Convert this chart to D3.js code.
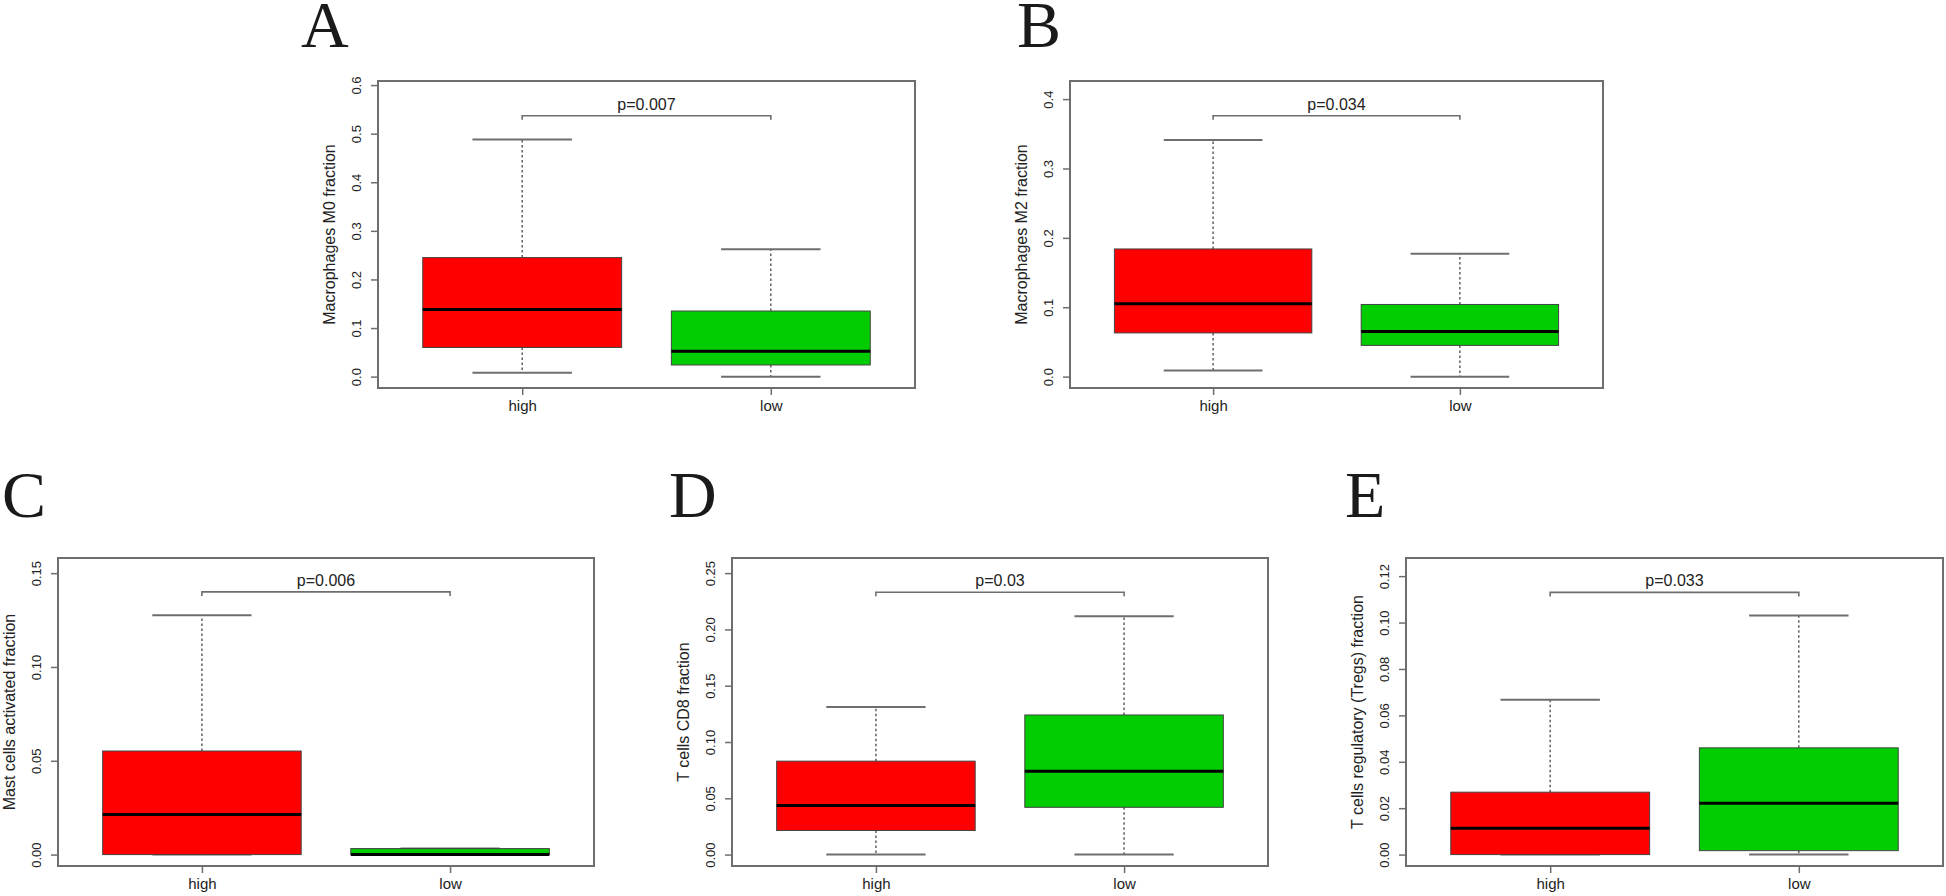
<!DOCTYPE html>
<html lang="en">
<head>
    <meta charset="UTF-8">
    <title>Immune cell fractions, high vs low</title>
    <script src="https://d3js.org/d3.v7.min.js"></script>
    <style>
        body { margin: 0; background: #fff; }
        text { font-family: "Liberation Sans", Arial, sans-serif; fill: #222; }
        .letter { font-family: "Liberation Serif", "Times New Roman", serif; font-size: 66px; fill: #1a1a1a; }
        .frame { fill: none; stroke: #6e6e6e; stroke-width: 2; }
        .axis path { display: none; }
        .axis line { stroke: #6e6e6e; stroke-width: 1.5; }
        .axis text { font-size: 13px; fill: #222; }
        .xaxis text { font-size: 15px; }
        .ylab { font-size: 16px; }
        .ptext { font-size: 16px; }
        .whisker { stroke: #555; stroke-width: 1.4; stroke-dasharray: 2.5,2.5; }
        .cap { stroke: #6e6e6e; stroke-width: 2; }
        .box { stroke: #444; stroke-width: 1; }
        .median { stroke: #000; stroke-width: 3; }
        .bracket { fill: none; stroke: #6e6e6e; stroke-width: 1.6; }
    </style>
</head>
<body>
<script>
    // Data
    const panels = ["A", "B", "C", "D", "E"];
    const groups = ["high", "low"];
    const yLabels = [
        "Macrophages M0 fraction",
        "Macrophages M2 fraction",
        "Mast cells activated fraction",
        "T cells CD8 fraction",
        "T cells regulatory (Tregs) fraction"
    ];
    const pValues = ["p=0.007", "p=0.034", "p=0.006", "p=0.03", "p=0.033"];

    // [min, q1, median, q3, max]
    const highStats = [
        [0.008, 0.060, 0.138, 0.245, 0.488],
        [0.009, 0.063, 0.105, 0.184, 0.341],
        [0.000, 0.000, 0.0214, 0.0552, 0.1275],
        [0.000, 0.0214, 0.0437, 0.083, 0.131],
        [0.000, 0.000, 0.0113, 0.0269, 0.0667]
    ];
    const lowStats = [
        [0.000, 0.024, 0.052, 0.135, 0.262],
        [0.000, 0.045, 0.065, 0.104, 0.177],
        [0.000, 0.000, 0.000, 0.0032, 0.0032],
        [0.000, 0.042, 0.074, 0.124, 0.2116],
        [0.000, 0.0017, 0.0221, 0.046, 0.103]
    ];
    const bracketValues = [0.537, 0.376, 0.140, 0.233, 0.113];
    const yUpper = [0.585, 0.4097, 0.152, 0.2533, 0.1229];
    const yTicks = [
        [0, 0.1, 0.2, 0.3, 0.4, 0.5, 0.6],
        [0, 0.1, 0.2, 0.3, 0.4],
        [0, 0.05, 0.10, 0.15],
        [0, 0.05, 0.10, 0.15, 0.20, 0.25],
        [0, 0.02, 0.04, 0.06, 0.08, 0.10, 0.12]
    ];
    const tickFormats = [".1f", ".1f", ".2f", ".2f", ".2f"];

    // Layout of each plot frame
    const frames = [
        {x0: 378, x1: 915, y0: 81, y1: 388, lx: 301, ly: 47},
        {x0: 1070, x1: 1603, y0: 81, y1: 388, lx: 1017, ly: 47},
        {x0: 58, x1: 594, y0: 558, y1: 866, lx: 2, ly: 517},
        {x0: 732, x1: 1268, y0: 558, y1: 866, lx: 669, ly: 517},
        {x0: 1406, x1: 1943, y0: 558, y1: 866, lx: 1345, ly: 517}
    ];
    const colors = {high: "#ff0000", low: "#00cc00"};

    const svg = d3.select("body")
        .append("svg")
        .attr("width", 1946)
        .attr("height", 896);

    panels.forEach((name, i) => {
        const f = frames[i];
        const g = svg.append("g");

        // R-like ylim with 4% extension
        const y = d3.scaleLinear()
            .domain([-0.04 * yUpper[i], 1.04 * yUpper[i]])
            .range([f.y1, f.y0]);

        const x = d3.scalePoint()
            .domain(groups)
            .range([f.x0, f.x1])
            .padding(0.58);
        const step = x.step();
        const half = 0.4 * step;
        const capHalf = 0.2 * step;

        // panel letter
        g.append("text")
            .attr("class", "letter")
            .attr("x", f.lx)
            .attr("y", f.ly)
            .text(name);

        // Y axis
        const yAxis = g.append("g")
            .attr("class", "axis")
            .attr("transform", `translate(${f.x0},0)`)
            .call(d3.axisLeft(y).tickValues(yTicks[i]).tickSize(7).tickFormat(d3.format(tickFormats[i])));
        yAxis.selectAll("text")
            .attr("x", null).attr("dy", null)
            .attr("text-anchor", "middle")
            .attr("dominant-baseline", "central")
            .attr("transform", "translate(-22,0) rotate(-90)");

        // X axis
        g.append("g")
            .attr("class", "axis xaxis")
            .attr("transform", `translate(0,${f.y1})`)
            .call(d3.axisBottom(x).tickSize(7).tickPadding(5));

        // y label
        g.append("text")
            .attr("class", "ylab")
            .attr("text-anchor", "middle")
            .attr("dominant-baseline", "central")
            .attr("transform", `translate(${f.x0 - 49},${(f.y0 + f.y1) / 2}) rotate(-90)`)
            .text(yLabels[i]);

        // boxes
        const stats = [highStats[i], lowStats[i]];
        groups.forEach((grp, j) => {
            const [mn, q1, md, q3, mx] = stats[j];
            const cx = x(grp);
            g.append("line").attr("class", "whisker")
                .attr("x1", cx).attr("x2", cx)
                .attr("y1", y(q3)).attr("y2", y(mx));
            g.append("line").attr("class", "whisker")
                .attr("x1", cx).attr("x2", cx)
                .attr("y1", y(q1)).attr("y2", y(mn));
            g.append("line").attr("class", "cap")
                .attr("x1", cx - capHalf).attr("x2", cx + capHalf)
                .attr("y1", y(mx)).attr("y2", y(mx));
            g.append("line").attr("class", "cap")
                .attr("x1", cx - capHalf).attr("x2", cx + capHalf)
                .attr("y1", y(mn)).attr("y2", y(mn));
            g.append("rect").attr("class", "box")
                .attr("x", cx - half)
                .attr("width", 2 * half)
                .attr("y", y(q3))
                .attr("height", Math.max(y(q1) - y(q3), 1))
                .attr("fill", colors[grp]);
            g.append("line").attr("class", "median")
                .attr("x1", cx - half).attr("x2", cx + half)
                .attr("y1", y(md)).attr("y2", y(md));
        });

        // significance bracket
        const by = y(bracketValues[i]);
        const xa = x(groups[0]), xb = x(groups[1]);
        g.append("path")
            .attr("class", "bracket")
            .attr("d", `M${xa},${by + 4}V${by}H${xb}V${by + 4}`);
        g.append("text")
            .attr("class", "ptext")
            .attr("text-anchor", "middle")
            .attr("x", (xa + xb) / 2)
            .attr("y", by - 6)
            .text(pValues[i]);

        // plot frame
        g.append("rect")
            .attr("class", "frame")
            .attr("x", f.x0).attr("y", f.y0)
            .attr("width", f.x1 - f.x0)
            .attr("height", f.y1 - f.y0);
    });
</script>
</body>
</html>
